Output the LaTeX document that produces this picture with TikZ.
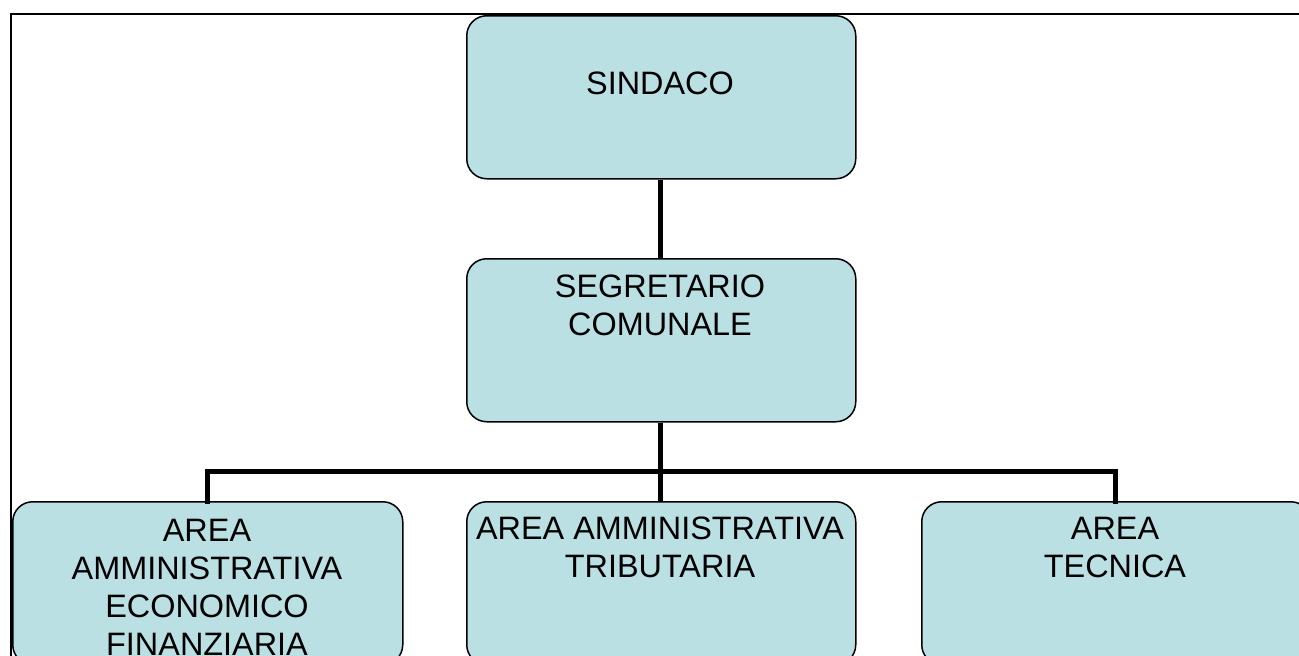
\documentclass[tikz,border=0pt]{standalone}
\usepackage{fontspec}
\setmainfont{Liberation Sans}
\definecolor{boxfill}{RGB}{186,224,228}
\begin{document}
\begin{tikzpicture}[x=1pt,y=-1pt,
  orgbox/.style={draw=black,line width=1.5pt,fill=boxfill,rounded corners=20pt,
    minimum width=389pt,minimum height=163pt,inner sep=0pt,anchor=north west},
  orgtext/.style={font=\fontsize{32.4}{38}\selectfont,align=center,anchor=north,inner sep=0pt},
  link/.style={line width=5pt,line cap=rect}]
\useasboundingbox (0,0) rectangle (1299,656);
\clip (0,0) rectangle (1299,656);
\fill[white] (0,0) rectangle (1299,656);
\draw[line width=2pt] (11,700) -- (11,14) -- (1320,14);
\node[orgbox] (sind) at (466,15) {};
\node[orgbox] (segr) at (466,258) {};
\node[orgbox,minimum width=390pt] (aef) at (12,501) {};
\node[orgbox] (aat) at (466,501) {};
\node[orgbox] (tec) at (921,501) {};
\node[orgtext] (tsind) at (660,71.5) {SINDACO};
\node[orgtext] (tsegr) at (660,274.5) {SEGRETARIO\\COMUNALE};
\node[orgtext] (taef) at (207,519.5) {AREA\\AMMINISTRATIVA\\ECONOMICO\\FINANZIARIA};
\node[orgtext] (taat) at (660,517) {AREA AMMINISTRATIVA\\TRIBUTARIA};
\node[orgtext] (ttec) at (1115,517) {AREA\\TECNICA};
\coordinate (bus) at (660,471);
\draw[link,line cap=butt] (sind.south -| bus) -- (segr.north -| bus);
\draw[link,line cap=butt] (segr.south -| bus) -- (bus);
\draw[link,line cap=butt] (bus) -- (aat.north -| bus);
\draw[link] (aef.north -| 207,0) |- (bus) -| (tec.north -| 1115,0);
\end{tikzpicture}
\end{document}
